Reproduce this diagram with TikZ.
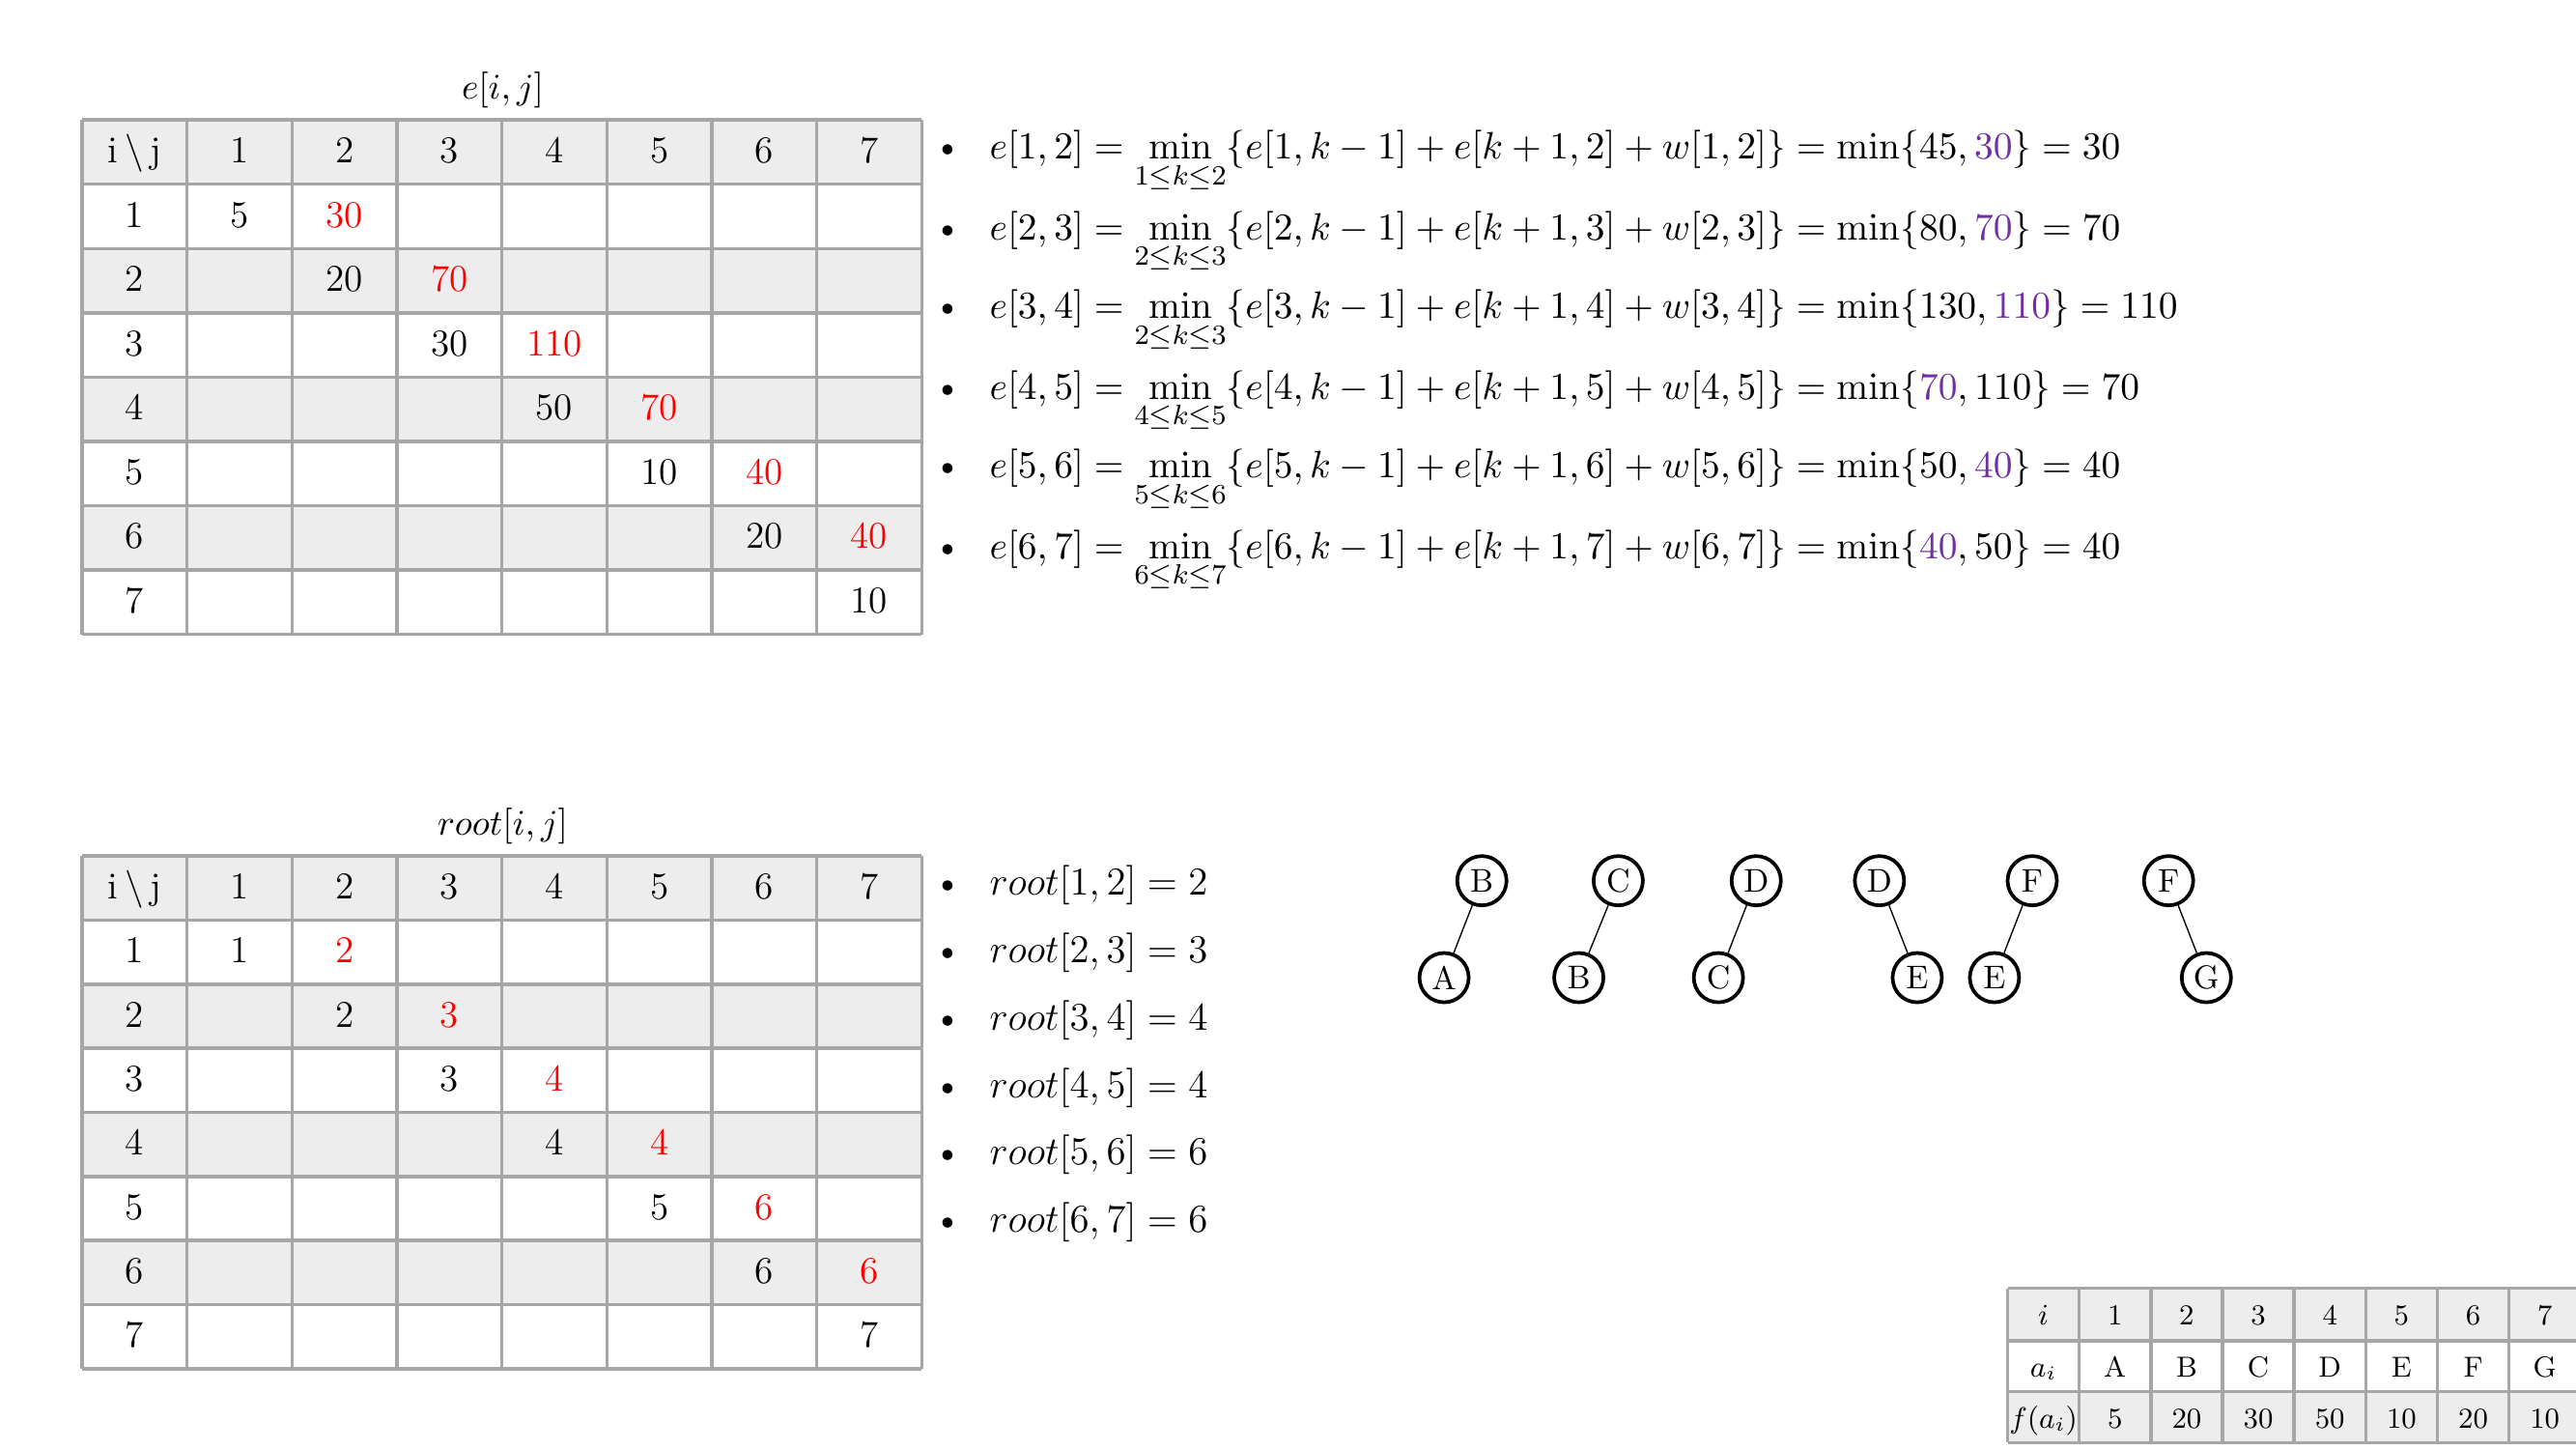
\documentclass[tikz,border=0pt]{standalone}
\usepackage{graphicx}
\definecolor{gridgray}{HTML}{A6A6A6}
\definecolor{cellgray}{HTML}{EDEDED}
\definecolor{hired}{HTML}{FF0000}
\definecolor{mpurple}{HTML}{7030A0}
\newcommand{\rd}[1]{\textcolor{hired}{#1}}
\newcommand{\pu}[1]{\textcolor{mpurple}{#1}}
\newcommand{\fm}[1]{\scalebox{1.06}{#1}}
\begin{document}
\begin{tikzpicture}[x=0.5pt,y=-0.5pt,
  gridline/.style={draw=gridgray,line width=1pt},
  cell/.style={inner sep=0pt,text height=0.65em,text depth=0pt,font=\fontsize{11.5}{13}\selectfont},
  scell/.style={inner sep=0pt,text height=0.65em,text depth=0pt,font=\fontsize{8.8}{10}\selectfont},
  fml/.style={anchor=base west,inner sep=0pt,font=\fontsize{10.95}{13}\selectfont},
  rfml/.style={anchor=base west,inner sep=0pt,font=\fontsize{12}{14}\selectfont},
  bul/.style={anchor=base,inner sep=0pt,font=\fontsize{11.5}{13}\selectfont},
  ttl/.style={anchor=base,inner sep=0pt,font=\fontsize{10.95}{13}\selectfont},
  tnode/.style={draw,circle,line width=1.1pt,minimum size=15pt,inner sep=0pt,font=\fontsize{10}{12}\selectfont},
  tedge/.style={draw,line width=0.4pt}]
\useasboundingbox (0,0) rectangle (1568,882);
\fill[white] (0,0) rectangle (1568,882);

% ===== top table e[i,j] =====
\fill[cellgray] (50,73) rectangle (561,112);
\fill[cellgray] (50,151) rectangle (561,190);
\fill[cellgray] (50,229) rectangle (561,268);
\fill[cellgray] (50,308) rectangle (561,347);
\foreach \k in {0,...,8} {
  \draw[gridline] ({50+63.875*\k},73) -- ({50+63.875*\k},386);
  \draw[gridline] (50,{73+39.125*\k}) -- (561,{73+39.125*\k});
}
\node[ttl] (etitle) at (306,60) {$e[i,j]$};
\foreach \r/\c/\t in {0/0/{i\,\textbackslash\,j},0/1/1,0/2/2,0/3/3,0/4/4,0/5/5,0/6/6,0/7/7,
  1/0/1,2/0/2,3/0/3,4/0/4,5/0/5,6/0/6,7/0/7,
  1/1/5,1/2/{\rd{30}},2/2/20,2/3/{\rd{70}},3/3/30,3/4/{\rd{110}},4/4/50,4/5/{\rd{70}},
  5/5/10,5/6/{\rd{40}},6/6/20,6/7/{\rd{40}},7/7/10}
  \node[cell] (e-\r-\c) at ({50+63.875*(\c+0.5)},{73+39.125*(\r+0.5)}) {\t};

% ===== bottom table root[i,j] =====
\fill[cellgray] (50,521) rectangle (561,560);
\fill[cellgray] (50,599) rectangle (561,638);
\fill[cellgray] (50,677) rectangle (561,716);
\fill[cellgray] (50,755) rectangle (561,794);
\foreach \k in {0,...,8} {
  \draw[gridline] ({50+63.875*\k},521) -- ({50+63.875*\k},833);
  \draw[gridline] (50,{521+39*\k}) -- (561,{521+39*\k});
}
\node[ttl] (rtitle) at (306,508) {$root[i,j]$};
\foreach \r/\c/\t in {0/0/{i\,\textbackslash\,j},0/1/1,0/2/2,0/3/3,0/4/4,0/5/5,0/6/6,0/7/7,
  1/0/1,2/0/2,3/0/3,4/0/4,5/0/5,6/0/6,7/0/7,
  1/1/1,1/2/{\rd{2}},2/2/2,2/3/{\rd{3}},3/3/3,3/4/{\rd{4}},4/4/4,4/5/{\rd{4}},
  5/5/5,5/6/{\rd{6}},6/6/6,6/7/{\rd{6}},7/7/7}
  \node[cell] (r-\r-\c) at ({50+63.875*(\c+0.5)},{521+39*(\r+0.5)}) {\t};

% ===== formulas =====
\foreach \n/\y in {1/97,2/146,3/194,4/243,5/291,6/340}
  \node[bul] (fb\n) at (577,\y) {\textbullet};
\node[fml] (f1) at (602,97) {\fm{$e[1,2] = \min\limits_{1\le k\le 2}\{e[1,k-1]+e[k+1,2]+w[1,2]\} = \min\{45,\pu{30}\} = 30$}};
\node[fml] (f2) at (602,146) {\fm{$e[2,3] = \min\limits_{2\le k\le 3}\{e[2,k-1]+e[k+1,3]+w[2,3]\} = \min\{80,\pu{70}\} = 70$}};
\node[fml] (f3) at (602,194) {\fm{$e[3,4] = \min\limits_{2\le k\le 3}\{e[3,k-1]+e[k+1,4]+w[3,4]\} = \min\{130,\pu{110}\} = 110$}};
\node[fml] (f4) at (602,243) {\fm{$e[4,5] = \min\limits_{4\le k\le 5}\{e[4,k-1]+e[k+1,5]+w[4,5]\} = \min\{\pu{70},110\} = 70$}};
\node[fml] (f5) at (602,291) {\fm{$e[5,6] = \min\limits_{5\le k\le 6}\{e[5,k-1]+e[k+1,6]+w[5,6]\} = \min\{50,\pu{40}\} = 40$}};
\node[fml] (f6) at (602,340) {\fm{$e[6,7] = \min\limits_{6\le k\le 7}\{e[6,k-1]+e[k+1,7]+w[6,7]\} = \min\{\pu{40},50\} = 40$}};

% ===== root list =====
\foreach \n/\y/\a/\b/\v in {1/545/1/2/2,2/586/2/3/3,3/627/3/4/4,4/668/4/5/4,5/709/5/6/6,6/750/6/7/6} {
  \node[bul] (rb\n) at (577,\y) {\textbullet};
  \node[rfml] (rl\n) at (602,\y) {$root[\a,\b] = \v$};
}

% ===== trees =====
\node[tnode] (t1p) at (902,536) {B};
\node[tnode] (t1c) at (879,595) {A};
\node[tnode] (t2p) at (985,536) {C};
\node[tnode] (t2c) at (961,595) {B};
\node[tnode] (t3p) at (1069,536) {D};
\node[tnode] (t3c) at (1046,595) {C};
\node[tnode] (t4p) at (1144,536) {D};
\node[tnode] (t4c) at (1167,595) {E};
\node[tnode] (t5p) at (1237,536) {F};
\node[tnode] (t5c) at (1214,595) {E};
\node[tnode] (t6p) at (1320,536) {F};
\node[tnode] (t6c) at (1343,595) {G};
\foreach \n in {1,...,6} \draw[tedge] (t\n p) -- (t\n c);

% ===== small table =====
\fill[cellgray] (1222,784) rectangle (1570,816);
\fill[cellgray] (1222,847) rectangle (1570,878);
\foreach \k in {0,...,8}
  \draw[gridline] ({1222+43.6*\k},784) -- ({1222+43.6*\k},878);
\foreach \yy in {784,816,847,878}
  \draw[gridline] (1222,\yy) -- (1571,\yy);
\foreach \c/\t in {0/{$i$},1/1,2/2,3/3,4/4,5/5,6/6,7/7}
  \node[scell] (s-0-\c) at ({1222+43.6*(\c+0.5)},800) {\t};
\foreach \c/\t in {0/{$a_i$},1/A,2/B,3/C,4/D,5/E,6/F,7/G}
  \node[scell] (s-1-\c) at ({1222+43.6*(\c+0.5)},831.5) {\t};
\foreach \c/\t in {0/{$f(a_i)$},1/5,2/20,3/30,4/50,5/10,6/20,7/10}
  \node[scell] (s-2-\c) at ({1222+43.6*(\c+0.5)},862.5) {\t};
\end{tikzpicture}
\end{document}
